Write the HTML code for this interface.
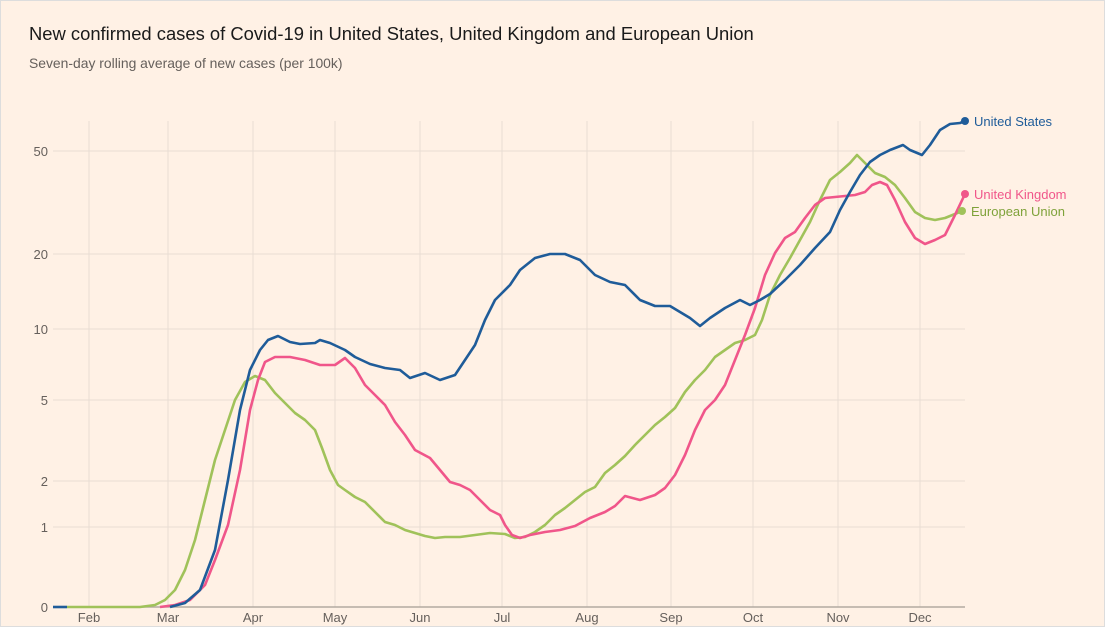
<!DOCTYPE html>
<html><head><meta charset="utf-8"><style>
body{margin:0;background:#fff1e5;}
svg{display:block;font-family:"Liberation Sans",sans-serif;}
</style></head><body>
<svg width="1105" height="627" viewBox="0 0 1105 627">
<rect x="0.5" y="0.5" width="1104" height="626" fill="#fff1e5" stroke="#ddd"/>
<text x="29" y="40" font-size="18.4" fill="#1a1a1a">New confirmed cases of Covid-19 in United States, United Kingdom and European Union</text>
<text x="29" y="68" font-size="13.9" fill="#66605c">Seven-day rolling average of new cases (per 100k)</text>
<g stroke="#e9ddd3" stroke-width="1">
<line x1="89" y1="121" x2="89" y2="607"/><line x1="168" y1="121" x2="168" y2="607"/><line x1="253" y1="121" x2="253" y2="607"/><line x1="335" y1="121" x2="335" y2="607"/><line x1="420" y1="121" x2="420" y2="607"/><line x1="502" y1="121" x2="502" y2="607"/><line x1="587" y1="121" x2="587" y2="607"/><line x1="671" y1="121" x2="671" y2="607"/><line x1="753" y1="121" x2="753" y2="607"/><line x1="838" y1="121" x2="838" y2="607"/><line x1="920" y1="121" x2="920" y2="607"/>
<line x1="53" y1="151" x2="965" y2="151"/><line x1="53" y1="254" x2="965" y2="254"/><line x1="53" y1="329" x2="965" y2="329"/><line x1="53" y1="400" x2="965" y2="400"/><line x1="53" y1="481" x2="965" y2="481"/><line x1="53" y1="527" x2="965" y2="527"/>
</g>
<line x1="53" y1="607" x2="965" y2="607" stroke="#b3aaa2" stroke-width="1.5"/>
<g font-size="13" fill="#66605c" text-anchor="end">
<text x="48" y="156">50</text><text x="48" y="259">20</text><text x="48" y="334">10</text><text x="48" y="405">5</text><text x="48" y="486">2</text><text x="48" y="532">1</text><text x="48" y="612">0</text>
</g>
<g font-size="13" fill="#66605c" text-anchor="middle">
<text x="89" y="622">Feb</text><text x="168" y="622">Mar</text><text x="253" y="622">Apr</text><text x="335" y="622">May</text><text x="420" y="622">Jun</text><text x="502" y="622">Jul</text><text x="587" y="622">Aug</text><text x="671" y="622">Sep</text><text x="753" y="622">Oct</text><text x="838" y="622">Nov</text><text x="920" y="622">Dec</text>
</g>
<g fill="none" stroke-width="2.6" stroke-linejoin="round">
<polyline stroke="#a0c25a" points="67,607 140,607 155,605 165,600 175,590 185,570 195,540 205,500 215,460 225,430 235,400 245,382 255,376 265,380 275,393 285,403 295,413 305,420 315,430 322,448 330,470 338,485 345,490 355,497 365,502 375,512 385,522 395,525 405,530 415,533 425,536 435,538 445,537 460,537 475,535 490,533 505,534 515,538 525,537 535,532 545,525 555,515 565,508 575,500 585,492 595,487 605,473 615,465 625,456 635,445 645,435 655,425 665,417 675,408 685,392 695,380 705,370 715,357 725,350 735,343 745,340 755,335 762,320 770,295 780,275 790,258 800,240 810,222 820,200 830,180 840,172 850,163 857,155 865,163 875,173 885,177 895,185 905,198 915,212 925,218 935,220 945,218 955,214 962,211"/>
<polyline stroke="#f0568a" points="160,607 175,605 190,600 205,585 215,560 228,525 240,470 250,410 258,380 265,362 275,357 290,357 305,360 320,365 335,365 345,358 355,368 365,385 375,395 385,405 395,422 405,435 415,450 430,458 440,470 450,482 460,485 470,490 480,500 490,510 500,515 505,525 512,535 520,538 530,535 545,532 560,530 575,526 590,518 605,512 615,506 625,496 640,500 655,495 665,488 675,475 685,455 695,430 705,410 715,400 725,385 735,360 745,335 755,308 765,275 775,253 785,238 795,232 805,218 815,205 825,198 835,197 845,196 855,195 865,192 872,185 880,182 887,185 895,200 905,222 915,238 925,244 935,240 945,235 955,215 965,194"/>
<polyline stroke="#1f5c99" points="53,607 67,607"/>
<polyline stroke="#1f5c99" points="170,607 185,603 200,590 215,550 228,480 240,410 250,370 260,350 268,340 278,336 290,342 300,344 315,343 320,340 330,343 345,350 355,357 370,364 385,368 400,370 410,378 425,373 440,380 455,375 465,360 475,345 485,320 495,300 510,285 520,270 535,258 550,254 565,254 580,260 595,275 610,282 625,285 640,300 655,306 670,306 680,312 690,318 700,326 710,318 725,308 740,300 750,305 760,300 770,294 785,280 800,265 815,248 830,232 840,210 850,192 860,175 870,162 880,155 890,150 903,145 910,150 922,155 930,145 940,130 950,124 960,123 965,121"/>
</g>
<circle cx="965" cy="121" r="4" fill="#1f5c99"/>
<circle cx="965" cy="194" r="4" fill="#f0568a"/>
<circle cx="962" cy="211" r="4" fill="#a0c25a"/>
<g font-size="13">
<text x="974" y="126" fill="#1f5c99">United States</text>
<text x="974" y="199" fill="#f0568a">United Kingdom</text>
<text x="971" y="216" fill="#7fa23a">European Union</text>
</g>
</svg>
</body></html>
